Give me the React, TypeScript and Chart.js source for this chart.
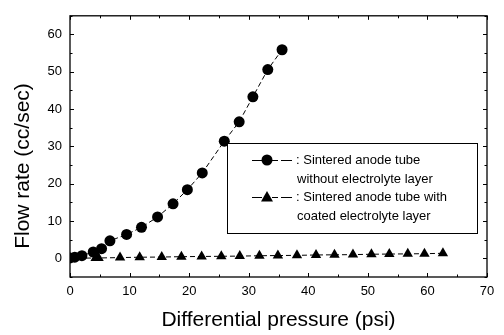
import React, { useEffect, useRef } from "react";
import { Chart, registerables } from "chart.js";

Chart.register(...registerables);

const circleX = [0, 0.8, 2.0, 3.9, 5.3, 6.7, 9.5, 12.0, 14.7, 17.3, 19.7, 22.2, 25.9, 28.4, 30.7, 33.2, 35.6];
const circleY = [0.1, 0.3, 0.7, 1.7, 2.6, 4.7, 6.4, 8.3, 11.1, 14.6, 18.4, 22.9, 31.4, 36.6, 43.3, 50.6, 55.9];

const triX = [0, 4.3, 4.8, 8.4, 11.7, 15.4, 18.7, 22.1, 25.4, 28.5, 31.8, 34.9, 38.1, 41.3, 44.4, 47.5, 50.6, 53.6, 56.7, 59.5, 62.6];
const triY = [0.0, 0.1, 0.1, 0.2, 0.3, 0.35, 0.45, 0.5, 0.55, 0.6, 0.7, 0.75, 0.8, 0.9, 0.95, 1.0, 1.1, 1.15, 1.2, 1.25, 1.35];

const xTitle = "Differential pressure (psi)";
const yTitle = "Flow rate (cc/sec)";
const legendLines = [
  ": Sintered anode tube",
  "without electrolyte layer",
  ": Sintered anode tube with",
  "coated electrolyte layer",
];

const FONT = '"Liberation Sans", Arial, Helvetica, sans-serif';

const framePlugin = {
  id: "frame",
  afterDraw(chart: any) {
    const { ctx, chartArea: a, scales } = chart;
    const xs = scales.x;
    const ys = scales.y;
    ctx.save();
    ctx.strokeStyle = "#000";
    ctx.lineWidth = 1.3;
    ctx.strokeRect(a.left, a.top, a.right - a.left, a.bottom - a.top);
    ctx.lineWidth = 1;
    ctx.beginPath();
    for (let v = 0; v <= 70; v += 5) {
      const p = Math.round(xs.getPixelForValue(v)) + 0.5;
      const len = v % 10 === 0 ? 4 : 2.5;
      ctx.moveTo(p, a.bottom);
      ctx.lineTo(p, a.bottom - len);
      ctx.moveTo(p, a.top);
      ctx.lineTo(p, a.top + len);
    }
    for (let v = -5; v <= 65; v += 5) {
      const p = Math.round(ys.getPixelForValue(v)) + 0.5;
      const len = v % 10 === 0 ? 4 : 2.5;
      ctx.moveTo(a.left, p);
      ctx.lineTo(a.left + len, p);
      ctx.moveTo(a.right, p);
      ctx.lineTo(a.right - len, p);
    }
    ctx.stroke();

    // axis titles
    ctx.fillStyle = "#000";
    ctx.font = `21px ${FONT}`;
    ctx.textAlign = "center";
    ctx.textBaseline = "middle";
    ctx.fillText(xTitle, (a.left + a.right) / 2, 320);
    ctx.save();
    ctx.translate(23, 166);
    ctx.rotate(-Math.PI / 2);
    ctx.fillText(yTitle, 0, 0);
    ctx.restore();

    // legend box
    const bx = 227, by = 143, bw = 250, bh = 90;
    ctx.fillStyle = "#fff";
    ctx.fillRect(bx, by, bw, bh);
    ctx.lineWidth = 1;
    ctx.strokeStyle = "#000";
    ctx.strokeRect(bx + 0.5, by + 0.5, bw, bh);
    ctx.fillStyle = "#000";
    ctx.font = `13px ${FONT}`;
    ctx.textAlign = "left";
    ctx.textBaseline = "middle";
    const rows = [160, 179, 197, 216];
    ctx.fillText(legendLines[0], 296, rows[0]);
    ctx.fillText(legendLines[1], 297, rows[1]);
    ctx.fillText(legendLines[2], 296, rows[2]);
    ctx.fillText(legendLines[3], 297, rows[3]);
    // symbols
    ctx.lineWidth = 1.2;
    [rows[0], rows[2]].forEach((yy, i) => {
      ctx.beginPath();
      ctx.moveTo(252, yy + 0.5);
      ctx.lineTo(262, yy + 0.5);
      ctx.moveTo(272, yy + 0.5);
      ctx.lineTo(278, yy + 0.5);
      ctx.moveTo(281, yy + 0.5);
      ctx.lineTo(292, yy + 0.5);
      ctx.stroke();
      ctx.beginPath();
      if (i === 0) {
        ctx.arc(267, yy, 5.5, 0, Math.PI * 2);
      } else {
        ctx.moveTo(267, yy - 6);
        ctx.lineTo(273, yy + 4.5);
        ctx.lineTo(261, yy + 4.5);
        ctx.closePath();
      }
      ctx.fill();
    });
    ctx.restore();
  },
};

export default function App() {
  const ref = useRef<HTMLCanvasElement | null>(null);
  useEffect(() => {
    document.body.style.margin = "0";
    const canvas = ref.current!;
    const chart = new Chart(canvas, {
      type: "scatter",
      data: {
        datasets: [
          {
            label: "without electrolyte layer",
            data: circleX.map((x, i) => ({ x, y: circleY[i] })),
            showLine: true,
            borderColor: "#000",
            borderWidth: 1,
            borderDash: [5, 3],
            backgroundColor: "#000",
            pointStyle: "circle",
            pointRadius: 5.5,
            pointBorderWidth: 0,
            tension: 0,
          },
          {
            label: "with coated electrolyte layer",
            data: triX.map((x, i) => ({ x, y: triY[i] })),
            showLine: true,
            borderColor: "#000",
            borderWidth: 1,
            borderDash: [5, 3],
            backgroundColor: "#000",
            pointStyle: "triangle",
            pointRadius: 6,
            pointBorderWidth: 0,
            tension: 0,
          },
        ],
      },
      options: {
        animation: false,
        responsive: false,
        devicePixelRatio: 1,
        layout: { padding: { top: 6, right: 17, left: 0, bottom: 0 } },
        plugins: { legend: { display: false }, tooltip: { enabled: false } },
        scales: {
          x: {
            type: "linear",
            min: 0,
            max: 70,
            grid: { display: false, drawTicks: false },
            border: { display: false },
            ticks: {
              stepSize: 10,
              color: "#000",
              font: { family: FONT, size: 13 },
              padding: 7,
              maxRotation: 0,
            },
            afterFit: (s: any) => {
              s.height = 58;
            },
          },
          y: {
            type: "linear",
            min: -5,
            max: 65,
            grid: { display: false, drawTicks: false },
            border: { display: false },
            ticks: {
              color: "#000",
              font: { family: FONT, size: 13 },
              padding: 8,
              callback: (v: any) => (Number(v) % 10 === 0 ? String(v) : ""),
              stepSize: 5,
            },
            afterFit: (s: any) => {
              s.width = 70;
            },
          },
        },
      },
      plugins: [framePlugin],
    });
    return () => chart.destroy();
  }, []);
  return (
    <div style={{ position: "absolute", left: 0, top: 0, width: 504, height: 335, background: "#fff" }}>
      <canvas ref={ref} width={504} height={335} />
    </div>
  );
}
